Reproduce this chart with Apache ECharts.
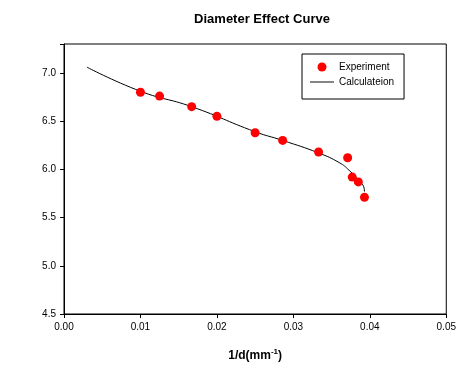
<!DOCTYPE html>
<html>
<head>
<meta charset="utf-8">
<script src="https://cdn.jsdelivr.net/npm/echarts@6/dist/echarts.min.js"></script>
<style>
  html, body { margin: 0; padding: 0; background: #fff; }
  #chart { width: 459px; height: 367px; }
</style>
</head>
<body>
<div id="chart"></div>
<script>
// measured points (1/d in mm^-1, detonation velocity)
const expX = [0.01, 0.0125, 0.0167, 0.02, 0.025, 0.0286, 0.0333, 0.0371, 0.0377, 0.0385, 0.0393];
const expY = [6.80, 6.76, 6.65, 6.55, 6.38, 6.30, 6.18, 6.12, 5.92, 5.87, 5.71];

// calculated curve
const calcX = [0.003, 0.01, 0.0167, 0.025, 0.0286, 0.0333, 0.0360, 0.0373, 0.0386, 0.0392, 0.0393];
const calcY = [7.06, 6.81, 6.65, 6.39, 6.30, 6.17, 6.07, 5.99, 5.88, 5.82, 5.77];

const xTicks = [0, 0.01, 0.02, 0.03, 0.04, 0.05];
const yTicks = [4.5, 5.0, 5.5, 6.0, 6.5, 7.0];

const chart = echarts.init(document.getElementById("chart"));
const font = "Liberation Sans, Arial, sans-serif";

chart.setOption({
  animation: false,
  textStyle: { fontFamily: font, color: "#000" },
  title: {
    text: "Diameter Effect Curve",
    left: 257,
    top: 8,
    textAlign: "center",
    textStyle: { fontSize: 13, fontWeight: "bold", color: "#000", fontFamily: font }
  },
  grid: { left: 64, right: 12, top: 44, bottom: 53, show: true, borderColor: "#000", borderWidth: 1 },
  legend: {
    left: 302,
    top: 54,
    orient: "vertical",
    borderColor: "#000",
    borderWidth: 1,
    borderRadius: 0,
    padding: [8, 10, 12, 8],
    itemGap: 5,
    itemWidth: 24,
    itemHeight: 9,
    itemTextGap: 6,
    textStyle: { fontSize: 10, color: "#000", fontFamily: font },
    data: [
      { name: "Experiment", icon: "circle" },
      { name: "Calculateion", icon: "path://M0,0 L100,0 L100,4 L0,4 Z" }
    ]
  },
  xAxis: {
    type: "value",
    min: xTicks[0],
    max: xTicks[xTicks.length - 1],
    interval: 0.01,
    name: "{a|1/d(mm}{s|-1}{a|)}",
    nameLocation: "middle",
    nameGap: 34,
    nameTextStyle: {
      rich: {
        a: { fontSize: 12, fontWeight: "bold", color: "#000", fontFamily: font },
        s: { fontSize: 8, fontWeight: "bold", color: "#000", fontFamily: font, verticalAlign: "top", padding: [0, 0, 8, 0] }
      }
    },
    axisLine: { lineStyle: { color: "#000" } },
    axisTick: { lineStyle: { color: "#000" }, length: 4 },
    axisLabel: { fontSize: 10, color: "#000", margin: 8, formatter: (v) => v.toFixed(2) },
    splitLine: { show: false }
  },
  yAxis: {
    type: "value",
    min: yTicks[0],
    max: 7.3,
    interval: 0.5,
    axisLine: { onZero: false, lineStyle: { color: "#000" } },
    axisTick: { lineStyle: { color: "#000" }, length: 4 },
    axisLabel: {
      fontSize: 10,
      color: "#000",
      margin: 8,
      formatter: (v) => (yTicks.some((t) => Math.abs(t - v) < 1e-6) ? v.toFixed(1) : "")
    },
    splitLine: { show: false }
  },
  series: [
    {
      name: "Experiment",
      type: "scatter",
      symbol: "circle",
      symbolSize: 9,
      itemStyle: { color: "#ff0000", opacity: 1 },
      data: expX.map((x, i) => [x, expY[i]]),
      z: 3
    },
    {
      name: "Calculateion",
      type: "line",
      symbol: "none",
      smooth: 0.5,
      lineStyle: { color: "#000", width: 1 },
      itemStyle: { color: "#000" },
      data: calcX.map((x, i) => [x, calcY[i]]),
      z: 2
    }
  ]
});
</script>
</body>
</html>
